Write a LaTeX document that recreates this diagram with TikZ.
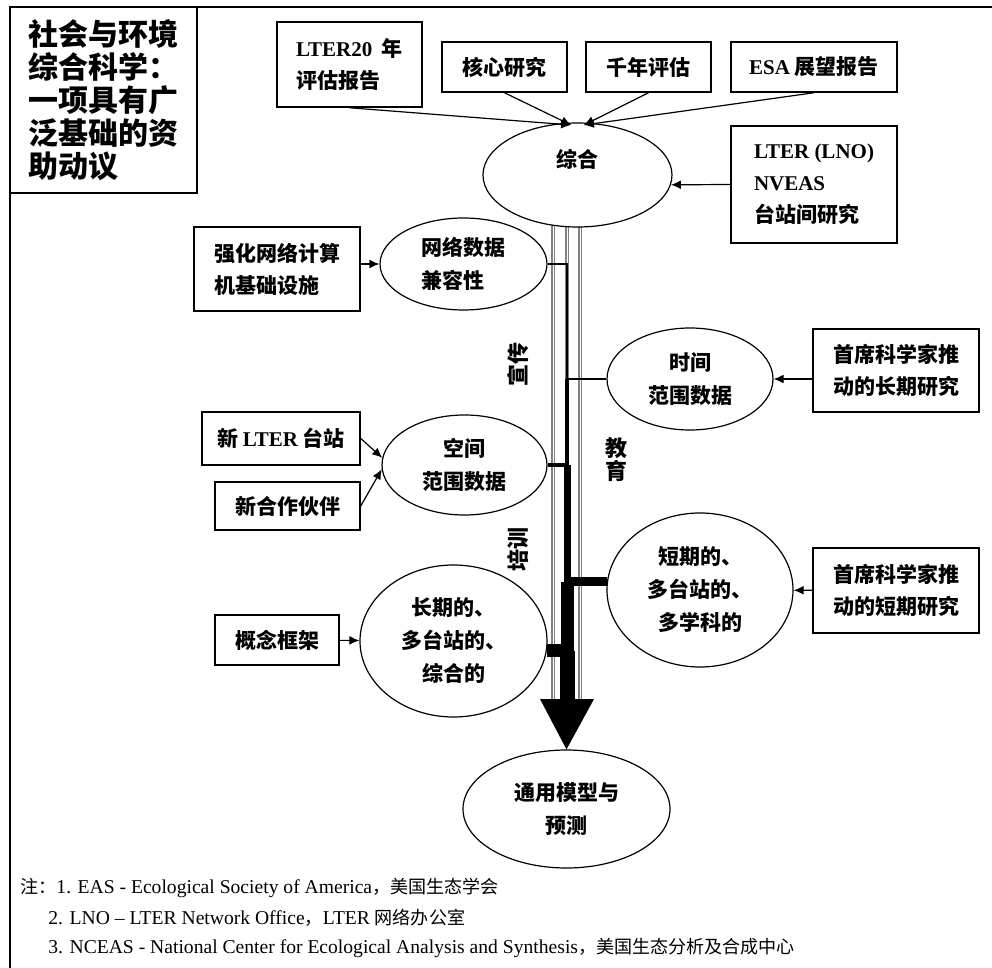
\documentclass[tikz,border=0pt]{standalone}
\usepackage{fontspec}
\setmainfont{Liberation Serif}
\newfontfamily\zh{Noto Sans CJK SC}
\newfontfamily\zhsm[Scale=0.92]{Noto Sans CJK SC}
\usepackage{tikz}
\usetikzlibrary{arrows.meta, calc, shapes.geometric}

\newcommand{\lat}[1]{{\rmfamily #1}}

\begin{document}
\begin{tikzpicture}[x=0.5pt, y=-0.5pt,
	box/.style={draw, line width=0.75pt, inner sep=0pt, align=center,
		font=\zh\bfseries\fontsize{10.5}{16}\selectfont},
	titlebox/.style={draw, line width=1pt, inner sep=0pt, align=left,
		font=\zh\bfseries\fontsize{15}{16.5}\selectfont},
	oval/.style={ellipse, draw, line width=0.6pt, fill=white, inner sep=0pt, align=center,
		font=\zh\bfseries\fontsize{10.5}{16.5}\selectfont},
	arr/.style={-{Latex[length=5pt, width=4.4pt]}, line width=0.6pt},
	shaft/.style={draw=gray, double=white, double distance=0.5pt, line width=0.6pt},
	lbl/.style={inner sep=0pt, font=\zh\bfseries\fontsize{11}{11.5}\selectfont},
	note/.style={inner sep=0pt, anchor=west, font=\fontsize{9.8}{11}\selectfont}]
					\useasboundingbox (0, 0) rectangle (992, 968);
					\draw[line width=0.75pt] (992, 7) -- (10, 7) -- (10, 968);
					
					% shaft of the big arrow
					\foreach \gx in {553, 567, 580}
						\draw[shaft] (\gx, 200) -- (\gx, 699);
					
					\node[titlebox, minimum width=93.5pt, minimum height=93pt] at (103.5, 100) (title) {社会与环境\\综合科学：\\一项具有广\\泛基础的资\\助动议};
					
					\node[box, minimum width=72.5pt, minimum height=42.5pt, align=left] at (349.5, 64.5) (lter20) {\lat{LTER20}\ \ 年\\评估报告};
					\node[box, minimum width=62.5pt, minimum height=25pt] at (504.5, 67) (hexin) {核心研究};
					\node[box, minimum width=62.5pt, minimum height=25pt] at (648.5, 67) (qiannian) {千年评估};
					\node[box, minimum width=83pt, minimum height=25pt] at (814, 67) (esa) {\lat{ESA} 展望报告};
					\node[oval, minimum width=94.5pt, minimum height=52pt] at (577.5, 175) (zonghe) {综合\\ };
					\node[box, minimum width=83pt, minimum height=58.5pt, align=left] at (814, 184.5) (lno) {\lat{LTER (LNO)}\\\lat{NVEAS}\\台站间研究};
					
					\node[box, minimum width=83pt, minimum height=42pt, align=left] at (277, 269) (qianghua) {强化网络计算\\机基础设施};
					\node[oval, minimum width=83.5pt, minimum height=46pt, align=left] at (463.5, 264) (wangluo) {网络数据\\兼容性};
					
					\node[oval, minimum width=83pt, minimum height=51pt] at (690, 379) (shijian) {时间\\范围数据};
					\node[box, minimum width=83pt, minimum height=41.5pt] at (896, 370.5) (changqiyj) {首席科学家推\\动的长期研究};
					
					\node[box, minimum width=79pt, minimum height=26.5pt] at (281, 438.5) (xinlter) {新 \lat{LTER} 台站};
					\node[box, minimum width=72.5pt, minimum height=24pt] at (287.5, 506) (xinhuoban) {新合作伙伴};
					\node[oval, minimum width=82.5pt, minimum height=50pt] at (464.5, 465) (kongjian) {空间\\范围数据};
					
					\node[oval, minimum width=93pt, minimum height=77pt] at (700, 590) (duanqi) {短期的、\\多台站的、\\多学科的};
					\node[box, minimum width=83pt, minimum height=42.5pt] at (896, 590.5) (duanqiyj) {首席科学家推\\动的短期研究};
					
					\node[box, minimum width=62pt, minimum height=25pt] at (277, 640) (gainian) {概念框架};
					\node[oval, minimum width=93.5pt, minimum height=76pt] at (453.5, 641) (changqi) {长期的、\\多台站的、\\综合的};
					
					\node[oval, minimum width=103.5pt, minimum height=59pt] at (566.5, 809) (tongyong) {通用模型与\\预测};
					
					\node[lbl, rotate=90] at (518, 365) (xuanchuan) {宣传};
					\node[lbl, align=center] at (616, 460) (jiaoyu) {教\\育};
					\node[lbl, rotate=90] at (518, 550) (peixun) {培训};
					
					\node[note] at (20, 888) (note1) {{\zhsm 注：}1. EAS - Ecological Society of America{\zhsm ，美国生态学会}};
					\node[note] at (48, 918) (note2) {2. LNO -- LTER Network Office{\zhsm ，}LTER {\zhsm 网络办公室}};
					\node[note] at (48, 948) (note3) {3. NCEAS - National Center for Ecological Analysis and Synthesis{\zhsm ，美国生态分析及合成中心}};
					
					\coordinate (tipl) at (571, 125);
					\coordinate (tipr) at (584, 125);
					\coordinate (trunk) at (567, 699);
					
					\draw
					(lter20.south) edge[arr] (tipl)
					(hexin.south) edge[arr] (tipl)
					(qiannian.south) edge[arr] (tipr)
					(esa.south) edge[arr] (tipr)
					(lno.west) edge[arr] (zonghe.-6)
					(qianghua.east |- wangluo.west) edge[arr] (wangluo.west)
					(changqiyj.west |- shijian.east) edge[arr] (shijian.east)
					(xinlter.east) edge[arr] (kongjian.175)
					(xinhuoban.east) edge[arr] (kongjian.183)
					(gainian) edge[arr] (changqi)
					(duanqiyj) edge[arr] (duanqi);
					
					% black trunk, wider after each branch
					\draw[line width=1pt] (wangluo.east) -- (wangluo.east -| trunk) -- (shijian.west -| trunk);
					\draw[line width=1.25pt] (shijian.west) -- (shijian.west -| trunk);
					\draw[line width=2pt] (shijian.west -| trunk) -- (kongjian.east -| trunk);
					\draw[line width=2pt] (kongjian.east) -- (kongjian.east -| trunk);
					\draw[line width=3.5pt] (kongjian.east -| trunk) -- (duanqi.175 -| trunk);
					\draw[line width=4.5pt] (duanqi.175) -- (duanqi.175 -| trunk);
					\draw[line width=6.5pt] (duanqi.175 -| trunk) -- (changqi.354 -| trunk);
					\draw[line width=6.5pt] (changqi.354) -- (changqi.354 -| trunk);
					\draw[line width=7.5pt] (changqi.354 -| trunk) -- (trunk);
					\fill ($(trunk)+(-27, 0)$) -- ($(trunk)+(27, 0)$) -- (tongyong.north) -- cycle;
				\end{tikzpicture}
\end{document}
